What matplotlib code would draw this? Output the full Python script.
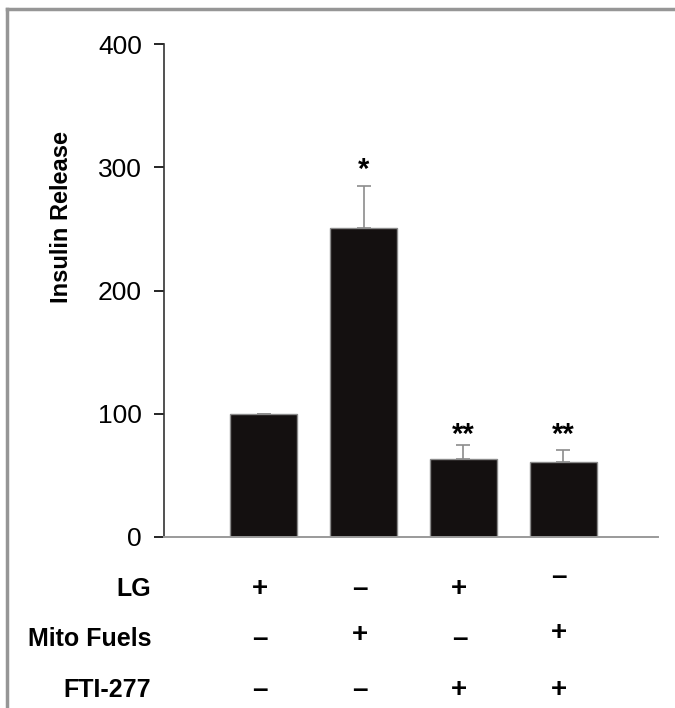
import matplotlib
matplotlib.use("Agg")
import matplotlib.pyplot as plt
from matplotlib.lines import Line2D
from matplotlib.transforms import blended_transform_factory

plt.rcParams['font.family'] = ['Liberation Sans', 'DejaVu Sans']

# data
values = [100, 251, 63, 61]
errors = [0, 34, 11.5, 9.5]
stars = ['', '*', '**', '**']
star_y = [None, 298, 83, 83]
row_names = ['LG', 'Mito Fuels', 'FTI-277']
row_signs = [
    ['+', '–', '+', '–'],
    ['–', '+', '–', '+'],
    ['–', '–', '+', '+'],
]
# small vertical nudges (pixels) seen on some signs in the original
sign_nudge = [
    [0, 0, 0, 12],
    [0, 4, 0, 6],
    [0, 0, 0, 0],
]
row_y_px = [589, 639, 690]
yticks = [0, 100, 200, 300, 400]

W, H = 675, 708
fig = plt.figure(figsize=(W / 100, H / 100), dpi=100)
ax = fig.add_axes([164 / W, 1 - 537 / H, (658 - 164) / W, (537 - 44) / H])

x = list(range(len(values)))
ax.bar(x, values, width=0.67, color='#141010', edgecolor='#8a8a8a', linewidth=1, zorder=2)
ax.errorbar(x, values, yerr=[[0] * len(errors), errors], fmt='none',
            ecolor='#8c8c8c', elinewidth=1.2, capsize=5, capthick=1.2, zorder=1)

for xi, s, sy in zip(x, stars, star_y):
    if s:
        ax.text(xi, sy, s, ha='center', va='center', fontsize=21, fontweight='bold')

ax.set_xlim(-1.0, 3.95)
ax.set_ylim(0, 400)
ax.set_yticks(yticks)
ax.set_xticks([])
ax.tick_params(axis='y', direction='out', length=7, width=1.2, labelsize=19, pad=9)
for side in ['top', 'right']:
    ax.spines[side].set_visible(False)
ax.spines['left'].set_linewidth(1.2)
ax.spines['left'].set_color('#333333')
ax.spines['bottom'].set_linewidth(1.4)
ax.spines['bottom'].set_color('#9a9a9a')
ax.spines['bottom'].set_zorder(3)

fig.text(62 / W, 1 - 217 / H, 'Insulin Release', rotation=90, ha='center', va='center',
         fontsize=17, fontweight='bold')

trans = blended_transform_factory(ax.transData, fig.transFigure)
for r, name in enumerate(row_names):
    yf = 1 - row_y_px[r] / H
    fig.text(151 / W, yf, name, ha='right', va='center', fontsize=18, fontweight='bold')
    for xi, s in enumerate(row_signs[r]):
        ax.text(xi - 0.04, yf + sign_nudge[r][xi] / H, s, transform=trans, ha='center',
                va='center', fontsize=20, fontweight='bold', clip_on=False)

# grey frame on top and left
fig.add_artist(Line2D([7 / W, 1], [1 - 9 / H, 1 - 9 / H], color='#969696', linewidth=2.5))
fig.add_artist(Line2D([7 / W, 7 / W], [0, 1 - 9 / H], color='#969696', linewidth=2.5))

fig.savefig('out.png', dpi=100)
